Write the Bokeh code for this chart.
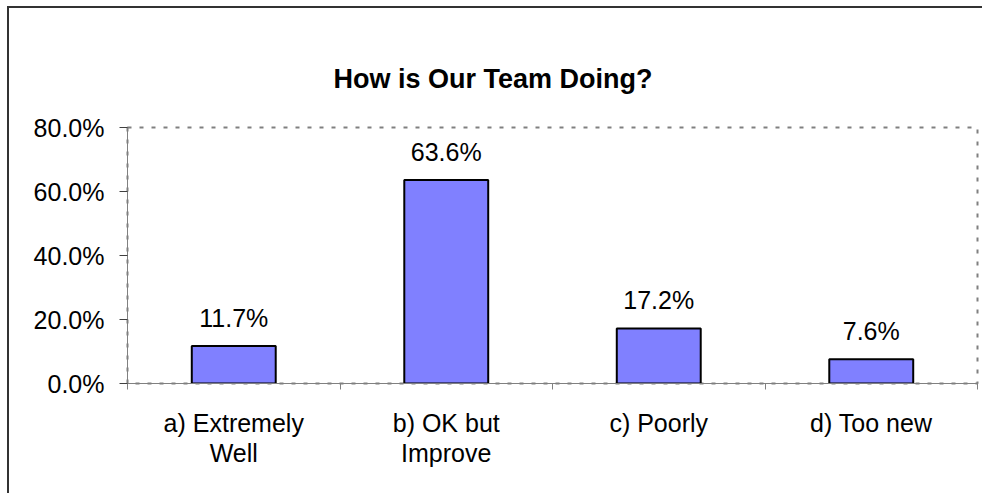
from bokeh.plotting import figure
from bokeh.models import Range1d, FixedTicker, NumeralTickFormatter, Title, ColumnDataSource
from bokeh.core.properties import value
from bokeh.embed import file_html
from bokeh.resources import INLINE

title = "How is Our Team Doing?"
categories = ["a) Extremely\nWell", "b) OK but\nImprove", "c) Poorly", "d) Too new"]
values = [0.117, 0.636, 0.172, 0.076]
y_ticks = [0.0, 0.2, 0.4, 0.6, 0.8]

FONT = "Liberation Sans"

xs = [i + 0.5 for i in range(len(categories))]
labels = [f"{v * 100:.1f}%" for v in values]
src = ColumnDataSource(dict(x=xs, top=values, lab=labels))

p = figure(width=975, height=487, output_backend="svg", toolbar_location=None,
           x_range=Range1d(0, len(categories)), y_range=Range1d(0, y_ticks[-1]),
           min_border_left=118, min_border_right=7, min_border_top=119, min_border_bottom=112)
p.styles = {"margin-left": "9px", "margin-top": "8px",
            "box-shadow": "-2px -2px 0 0 #333333"}

p.vbar(x="x", top="top", width=0.395, source=src, fill_color="#8080FF",
       line_color="black", line_width=2)
p.text(x="x", y="top", text="lab", source=src, text_align="center",
       text_baseline="alphabetic", y_offset=-28, text_font=value(FONT),
       text_font_size="25px", text_color="black")

p.grid.visible = False
p.outline_line_color = "#808080"
p.outline_line_dash = "4 8"
p.outline_line_width = 2
p.background_fill_color = "white"
p.border_fill_color = "white"

ya = p.yaxis[0]
ya.ticker = FixedTicker(ticks=y_ticks)
ya.formatter = NumeralTickFormatter(format="0.0%")
ya.major_tick_out = 8
ya.major_tick_in = 0
ya.minor_tick_line_color = None
ya.axis_line_color = "#808080"
ya.major_tick_line_color = "#404040"
ya.major_label_standoff = 15
ya.major_label_text_font = FONT
ya.major_label_text_font_size = "25px"
ya.major_label_text_color = "black"

xa = p.xaxis[0]
xa.ticker = FixedTicker(ticks=xs, minor_ticks=list(range(len(categories) + 1)))
xa.major_label_overrides = {x: c for x, c in zip(xs, categories)}
xa.major_tick_out = 0
xa.major_tick_in = 0
xa.minor_tick_out = 6
xa.minor_tick_in = 0
xa.minor_tick_line_color = "#808080"
xa.axis_line_color = "#808080"
xa.major_label_standoff = 19
xa.major_label_text_font = FONT
xa.major_label_text_font_size = "25px"
xa.major_label_text_color = "black"
xa.major_label_text_line_height = 1.1

p.add_layout(Title(text=title, align="left", offset=206, standoff=68, text_font=FONT,
                   text_font_size="27px", text_font_style="bold", text_color="black"),
             "above")

open("out.html", "w").write(file_html(p, INLINE))
